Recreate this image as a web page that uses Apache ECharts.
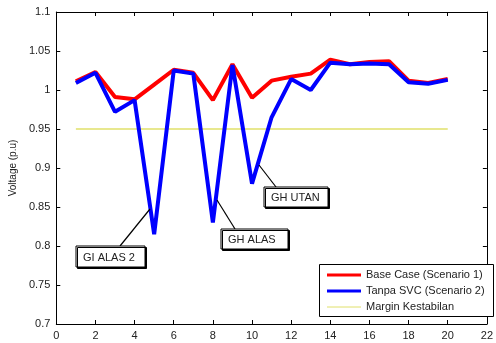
<!DOCTYPE html>
<html>
<head>
<meta charset="utf-8">
<script src="https://cdn.jsdelivr.net/npm/echarts@6/dist/echarts.min.js"></script>
<style>html,body{margin:0;padding:0;background:#fff}#c{width:496px;height:343px}</style>
</head>
<body>
<div id="c"></div>
<script>
const buses = [1,2,3,4,5,6,7,8,9,10,11,12,13,14,15,16,17,18,19,20];
const baseCase = [1.011,1.023,0.991,0.988,1.007,1.026,1.022,0.987,1.033,0.990,1.012,1.017,1.021,1.039,1.033,1.036,1.037,1.012,1.009,1.014];
const tanpaSVC = [1.009,1.022,0.972,0.987,0.815,1.025,1.021,0.830,1.032,0.880,0.965,1.014,1.000,1.035,1.033,1.034,1.033,1.010,1.008,1.013];
const marginX = [1, 20];
const marginValue = 0.95;
const seriesNames = ['Base Case (Scenario 1)','Tanpa SVC (Scenario 2)','Margin Kestabilan'];
const annotationTexts = ['GI ALAS 2','GH ALAS','GH UTAN'];
const xTicks = {min:0, max:22, interval:2};
const yTicks = {min:0.7, max:1.1, interval:0.05};

const font = 'Liberation Sans, Arial, sans-serif';
const colors = ['#ff0000','#0000ff','#e0e06a'];
const widths = [4,4,1.5];
const chart = echarts.init(document.getElementById('c'), null, {renderer:'canvas'});
const fmt = v => String(+(+v).toFixed(2));
const axisCommon = {
  axisLine:{show:true, onZero:false, lineStyle:{color:'#000', width:1}},
  axisTick:{show:true, inside:true, length:4, lineStyle:{color:'#000'}},
  splitLine:{show:false}
};
const option = {
  animation:false,
  backgroundColor:'#fff',
  grid:{left:56, top:12, right:4, bottom:19},
  xAxis:[
    Object.assign({type:'value', position:'bottom', min:xTicks.min, max:xTicks.max, interval:xTicks.interval,
      axisLabel:{color:'#222', fontSize:11, fontFamily:font, margin:6}}, axisCommon),
    Object.assign({type:'value', position:'top', min:xTicks.min, max:xTicks.max, interval:xTicks.interval,
      axisLabel:{show:false}}, axisCommon)
  ],
  yAxis:[
    Object.assign({type:'value', position:'left', min:yTicks.min, max:yTicks.max, interval:yTicks.interval,
      name:'Voltage (p.u)', nameLocation:'middle', nameGap:34, nameRotate:90,
      nameTextStyle:{color:'#222', fontSize:10, fontFamily:font},
      axisLabel:{color:'#222', fontSize:11, fontFamily:font, margin:6, formatter:fmt}}, axisCommon),
    Object.assign({type:'value', position:'right', min:yTicks.min, max:yTicks.max, interval:yTicks.interval,
      axisLabel:{show:false}}, axisCommon)
  ],
  series:[
    {name:seriesNames[0], type:'line', symbol:'none', data:buses.map((b,i)=>[b,baseCase[i]]),
      lineStyle:{color:colors[0], width:widths[0]}, z:2},
    {name:seriesNames[1], type:'line', symbol:'none', data:buses.map((b,i)=>[b,tanpaSVC[i]]),
      lineStyle:{color:colors[1], width:widths[1]}, z:3},
    {name:seriesNames[2], type:'line', symbol:'none', data:marginX.map(x=>[x,marginValue]),
      lineStyle:{color:colors[2], width:widths[2]}, z:1}
  ]
};
chart.setOption(option);

const boxes = [
  {text:annotationTexts[0], x:76, y:246, w:69, h:21, lx1:120, ly1:246, lx2:150, ly2:209},
  {text:annotationTexts[1], x:221, y:229, w:67, h:20, lx1:235, ly1:229, lx2:217, ly2:200},
  {text:annotationTexts[2], x:264, y:187, w:64, h:20, lx1:276, ly1:187, lx2:259, ly2:165}
];
const graphic = [];
boxes.forEach(b=>{
  graphic.push({type:'line', shape:{x1:b.lx1,y1:b.ly1,x2:b.lx2,y2:b.ly2}, style:{stroke:'#000', lineWidth:1.2}, z:10});
  graphic.push({type:'rect', shape:{x:b.x,y:b.y,width:b.w,height:b.h},
    style:{fill:'#fff', stroke:'#000', lineWidth:1, shadowColor:'#000', shadowOffsetX:1.5, shadowOffsetY:1.5, shadowBlur:0}, z:11});
  graphic.push({type:'text', x:b.x+7, y:b.y+b.h/2+1, style:{text:b.text, fill:'#222', font:'11px '+font, verticalAlign:'middle'}, z:12});
});
// legend box
const lg = {x:319.5, y:264.5, w:174, h:52};
graphic.push({type:'rect', shape:{x:lg.x,y:lg.y,width:lg.w,height:lg.h}, style:{fill:'#fff', stroke:'#000', lineWidth:1}, z:20});
seriesNames.forEach((n,i)=>{
  const cy = 275 + i*16;
  graphic.push({type:'line', shape:{x1:327,y1:cy,x2:361,y2:cy}, style:{stroke:colors[i], lineWidth:widths[i]===4?3:1}, z:21});
  graphic.push({type:'text', x:366, y:cy, style:{text:n, fill:'#222', font:'11px '+font, verticalAlign:'middle'}, z:21});
});
chart.setOption({graphic});
</script>
</body>
</html>
